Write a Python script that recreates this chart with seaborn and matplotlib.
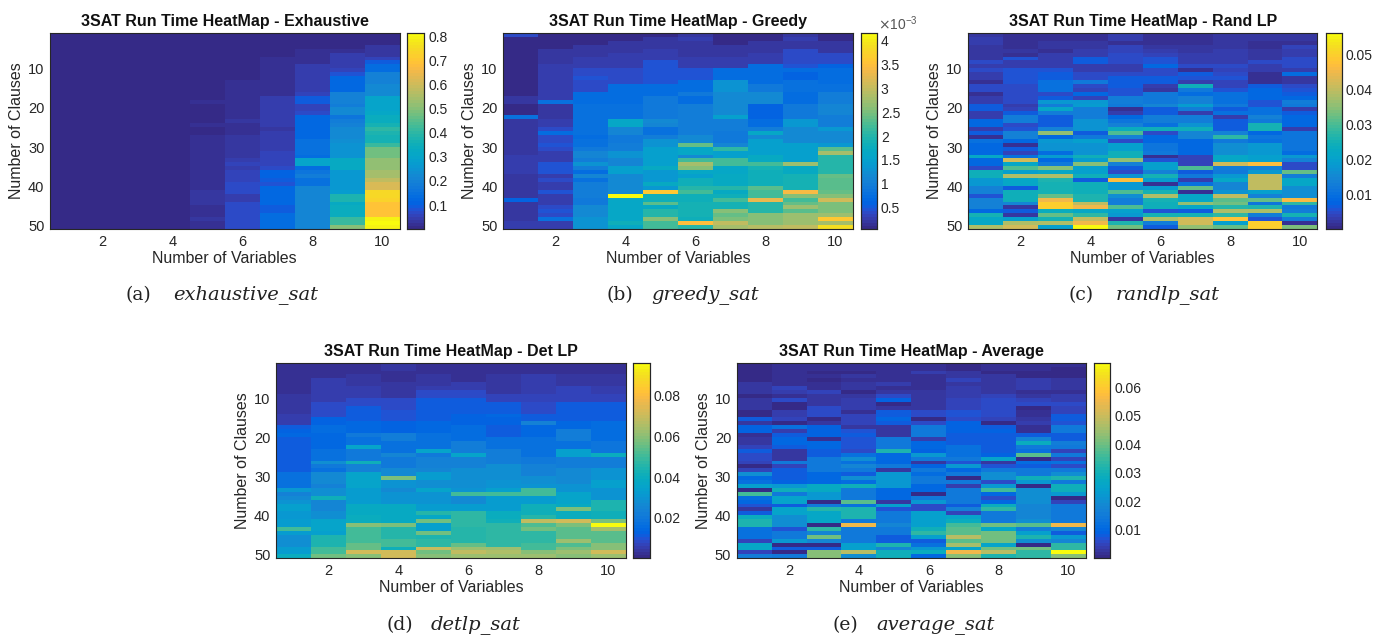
import numpy as np
import pandas as pd
import matplotlib
matplotlib.use('Agg')
import matplotlib.pyplot as plt
from matplotlib.colors import ListedColormap
import seaborn as sns

# run times, one list per number of variables (clauses 1..50)
# exhaustive in units of 0.01 s, greedy in 0.0001 s, the others in 0.001 s
exhaustive_rows = [
    [0,0,0,0,0,0,0,0,0,1],[0,0,0,0,0,0,0,0,0,1],[0,0,0,0,0,0,0,0,0,1],[0,0,0,0,0,0,0,0,0,3],[0,0,0,0,0,0,0,2,2,3],
    [0,0,0,0,0,0,0,2,4,3],[0,0,0,0,0,0,2,2,4,6],[0,0,0,0,0,0,2,2,4,10],[0,0,0,0,0,0,2,5,5,13],[0,0,0,0,0,0,2,5,6,13],
    [0,0,0,0,0,0,2,5,8,20],[0,0,0,0,0,0,2,5,12,20],[0,0,0,0,0,2,2,5,12,20],[0,0,0,0,0,2,2,5,12,22],[0,0,0,0,0,2,2,5,12,22],
    [0,0,0,0,0,2,2,6,20,22],[0,0,0,0,0,2,4,9,20,30],[0,0,0,0,2,2,4,9,20,30],[0,0,0,0,0,2,4,6,18,30],[0,0,0,0,0,2,4,6,22,30],
    [0,0,0,0,0,2,4,7,22,31],[0,0,0,0,0,2,4,12,16,34],[0,0,0,0,0,3,4,12,18,34],[0,0,0,0,2,2,4,12,20,36],[0,0,0,0,1,2,3,12,22,40],
    [0,0,0,0,1,2,5,12,22,38],[0,0,0,0,2,3,5,12,22,36],[0,0,0,0,2,3,5,15,23,36],[0,0,0,0,2,3,4,15,25,41],[0,0,0,0,2,3,4,15,25,48],
    [0,0,0,0,2,3,6,15,25,48],[0,0,0,0,2,3,6,13,25,48],[0,0,0,0,2,5,6,30,32,52],[0,0,0,0,2,6,6,30,32,52],[0,0,0,0,2,4,7,13,32,52],
    [0,0,0,0,2,6,11,16,26,54],[0,0,0,0,2,6,11,18,26,54],[0,0,0,0,2,6,10,15,26,58],[0,0,0,0,2,7,8,15,26,62],[0,0,0,0,2,7,12,21,26,62],
    [0,0,0,0,3,7,12,21,28,74],[0,0,0,1,3,5,12,21,38,74],[0,0,0,0,3,5,12,21,38,73],[0,0,0,0,3,7,12,21,33,69],[0,0,0,0,2,7,10,21,34,69],
    [0,0,0,0,2,7,10,21,34,69],[0,0,0,0,2,7,13,21,34,69],[0,0,0,0,3,7,13,21,42,80],[0,0,0,1,2,7,13,21,42,81],[0,0,0,1,2,7,13,21,50,80],
]

greedy_cols = [
    [4,1,1,1,1,1,1,1,1,1, 1,1,1,1,1,1,2,2,1,1, 1,8,2,2,2,2,2,2,2,2, 2,3,3,3,3,3,2,2,2,2, 2,2,6,2,2,2,2,2,3,3],
    [1,1,1,1,2,2,2,2,3,3, 3,3,3,3,3,3,3,8,2,2, 2,2,3,3,4,7,4,4,5,4, 3,3,3,5,5,5,3,4,3,3, 5,3,3,3,4,5,4,8,3,3],
    [1,1,1,2,2,2,3,3,3,4, 4,5,4,4,4,7,7,7,8,8, 8,8,8,8,8,8,7,8,8,9, 11,11,10,13,10,7,11,8,10,10, 10,10,9,9,12,12,12,13,13,13],
    [1,1,2,2,2,3,3,3,3,4, 4,4,4,7,7,7,7,7,8,8, 8,8,16,16,11,11,9,9,10,10, 13,13,11,11,15,15,12,12,12,12, 12,41,16,16,16,16,16,16,18,16],
    [1,2,2,2,3,3,3,5,5,5, 5,5,5,7,7,7,9,9,9,9, 9,9,12,11,8,8,10,13,13,15, 15,15,15,15,17,14,14,14,17,14, 36,18,18,23,17,20,20,26,22,22],
    [2,3,2,2,2,2,3,3,3,5, 5,5,7,7,7,9,7,7,10,10, 10,10,10,10,10,10,12,12,24,16, 16,12,22,28,26,16,15,18,18,20, 22,18,18,19,19,19,19,18,35,20],
    [1,1,1,2,2,2,3,3,3,7, 7,7,13,13,13,12,12,12,12,12, 12,15,10,10,10,9,9,9,11,21, 15,15,22,22,16,16,17,17,17,20, 17,18,22,19,19,26,24,25,30,28],
    [1,1,2,2,2,3,3,3,7,7, 7,7,7,9,9,12,12,12,6,6, 6,6,7,7,10,16,12,15,15,15, 15,17,17,22,19,18,18,18,18,23, 22,22,33,20,20,20,26,26,26,29],
    [2,3,2,2,4,4,4,4,5,7, 6,6,8,8,8,7,7,7,9,9, 9,9,14,14,12,12,12,12,15,15, 15,15,15,27,17,17,19,19,19,19, 34,26,22,24,27,23,27,27,27,30],
    [1,1,2,2,2,4,4,4,6,7, 7,7,7,8,8,10,10,10,11,11, 11,10,10,10,14,12,12,12,14,23, 28,20,20,20,20,20,24,23,23,23, 24,26,31,25,25,25,27,36,28,39],
]

randlp_cols = [
    [2,3,3,2,2,2,2,5,3,5, 3,3,1,5,5,1,3,3,7,7, 3,3,8,8,3,7,1,10,8,8, 8,22,8,8,5,24,24,18,18,14, 14,6,14,14,14,8,25,22,22,38],
    [1,1,1,1,2,1,6,3,3,6, 6,6,6,5,5,5,5,5,3,4, 7,13,13,5,6,14,14,8,1,7, 4,10,42,22,30,20,38,22,22,7, 24,24,24,15,2,7,2,20,38,42],
    [1,1,2,2,1,3,3,3,3,6, 7,7,10,10,10,5,7,18,13,22, 13,7,7,7,14,36,8,18,17,17, 9,19,8,12,35,22,38,26,25,25, 25,32,45,50,50,23,32,25,38,20],
    [1,1,2,2,3,3,7,7,3,3, 5,5,12,5,4,8,4,18,19,13, 13,13,17,17,17,7,12,20,17,17, 17,24,19,35,20,20,24,7,24,24, 24,26,26,40,45,22,28,40,45,56],
    [3,3,1,4,4,5,5,5,3,3, 5,7,7,7,6,6,13,13,12,1, 3,8,11,14,23,30,14,5,20,20, 24,24,36,14,7,5,17,47,18,18, 30,16,13,13,30,20,18,2,26,33],
    [1,1,1,2,3,4,6,6,8,5, 5,7,7,3,2,12,12,12,15,7, 7,13,13,10,24,5,8,8,11,11, 12,1,6,20,20,14,25,19,1,19, 25,38,25,24,24,6,25,38,13,7],
    [1,1,1,2,2,3,3,3,5,1, 7,6,3,24,12,9,14,14,19,13, 3,13,13,17,24,15,15,8,8,8, 8,4,4,4,30,7,12,3,10,32, 1,22,22,36,22,7,25,42,42,36],
    [2,2,2,2,3,3,3,3,5,4, 5,6,4,4,6,10,10,10,12,7, 10,3,7,7,7,14,28,12,16,16, 16,22,22,42,13,12,18,22,15,15, 17,40,31,33,27,38,28,48,20,32],
    [2,2,1,1,2,2,2,5,3,3, 1,1,1,7,8,8,8,6,6,10, 10,14,12,25,25,8,11,10,18,18, 18,20,20,47,14,18,40,40,40,40, 20,14,32,11,26,38,13,6,50,50],
    [2,2,1,4,3,3,5,5,5,3, 9,2,2,5,6,7,8,13,12,3, 7,8,8,8,3,11,11,11,11,11, 9,18,14,5,5,32,13,22,22,16, 16,16,46,28,12,13,25,13,1,34],
]

detlp_cols = [
    [2,2,2,3,3,3,3,3,4,4, 4,4,4,5,5,5,12,13,14,12, 12,12,11,11,12,12,12,12,18,18, 18,18,31,24,26,30,34,34,31,31, 32,32,50,33,28,28,28,33,33,40],
    [3,3,3,3,5,5,5,5,6,6, 9,9,9,9,13,13,16,16,14,14, 14,14,18,18,18,28,20,17,26,26, 26,24,28,28,42,25,25,25,28,28, 36,36,36,34,45,45,45,50,50,56],
    [3,3,3,4,4,4,5,5,5,8, 9,12,12,12,12,14,14,14,20,18, 18,36,20,20,20,42,24,24,35,35, 35,35,33,33,33,33,38,38,38,40, 40,60,50,50,50,50,55,55,72,60],
    [4,4,3,3,3,4,4,4,4,8, 8,8,10,10,10,13,13,13,22,22, 18,18,18,25,20,20,20,27,27,58, 30,30,26,30,30,30,38,38,38,38, 38,58,46,46,46,50,50,42,72,72],
    [3,3,3,4,4,4,6,8,8,12, 12,12,12,12,12,15,15,15,18,18, 18,18,36,20,24,24,24,25,32,32, 28,28,35,30,30,30,33,33,46,37, 56,34,34,56,44,48,48,70,56,60],
    [2,2,3,3,3,5,5,8,8,11, 11,11,11,13,13,13,16,16,16,16, 22,22,22,36,24,24,24,28,28,28, 28,28,30,50,26,26,32,32,48,48, 48,48,46,46,46,46,55,62,68,62],
    [3,3,3,4,4,4,4,4,7,7, 12,12,12,14,13,13,12,12,12,18, 18,18,22,22,22,22,28,28,28,28, 30,30,34,50,32,32,32,32,40,40, 42,48,48,48,48,48,48,62,66,62],
    [3,3,3,5,5,5,5,5,7,7, 9,9,9,11,11,24,15,14,14,17, 17,17,17,17,20,20,24,24,24,28, 28,30,50,50,32,32,42,42,42,46, 68,52,56,48,48,48,50,50,60,62],
    [2,2,2,4,4,4,7,7,7,7, 12,12,12,12,12,14,14,22,22,22, 17,17,34,34,22,22,22,27,27,27, 27,30,30,36,36,36,38,58,40,40, 72,58,54,54,54,62,52,58,62,60],
    [2,2,2,4,4,4,6,6,7,7, 12,12,12,12,12,16,16,16,16,16, 19,19,19,40,22,22,22,30,30,30, 34,34,30,30,30,44,44,44,42,42, 58,96,64,54,54,54,60,60,72,62],
]

average_cols = [
    [1,1,1,1,1,3,3,3,1,3, 3,3,1,1,8,3,9,9,2,3, 3,5,8,6,6,5,1,5,20,10, 12,24,1,36,11,10,7,3,8,28, 32,32,12,12,12,5,26,26,5,16],
    [2,2,2,2,2,2,5,4,2,6, 1,1,4,4,5,1,12,4,8,10, 10,8,3,3,3,14,5,8,8,8, 9,22,30,14,25,25,8,25,25,20, 20,20,7,15,15,22,1,8,1,14],
    [2,2,1,2,1,2,2,5,3,3, 3,6,6,6,1,3,9,9,9,2, 10,10,8,8,14,14,14,14,10,10, 10,27,27,22,22,1,15,33,26,26, 26,1,34,18,40,18,1,8,42,42],
    [2,2,1,3,2,3,3,1,3,4, 4,4,2,5,5,5,3,7,8,7, 7,7,6,12,20,12,18,14,8,20, 11,30,15,15,14,38,12,32,32,32, 14,55,14,14,14,14,24,24,48,20],
    [2,2,2,2,2,4,2,3,6,9, 1,3,8,8,10,8,3,3,3,14, 15,14,32,10,10,10,14,3,22,22, 22,22,10,10,10,3,24,7,14,14, 14,18,14,14,8,8,32,18,30,30],
    [2,2,4,2,2,2,2,3,3,3, 3,3,6,6,1,6,14,14,14,4, 10,10,9,22,14,3,9,14,11,14, 14,10,10,1,14,22,6,6,24,24, 24,24,30,34,24,8,12,22,28,10],
    [1,1,3,3,5,3,4,4,4,5, 5,5,7,7,6,9,9,9,8,8, 8,12,12,12,14,7,22,10,14,1, 14,4,14,14,14,14,8,17,5,25, 28,36,38,38,48,38,45,25,55,42],
    [2,2,1,3,3,3,3,3,5,6, 6,6,6,6,5,1,8,9,8,8, 8,8,8,9,25,3,7,14,20,20, 6,22,36,10,6,10,28,34,14,14, 14,40,26,40,40,40,25,40,48,32],
    [2,2,1,1,4,4,4,2,3,5, 6,1,2,2,3,4,2,2,8,18, 28,14,12,38,1,11,8,14,14,30, 22,1,20,20,20,20,18,18,18,18, 20,38,16,24,32,20,1,40,34,34],
    [2,1,1,1,3,3,3,2,4,4, 6,5,5,8,8,7,14,14,8,8, 16,14,5,14,5,12,6,14,20,32, 14,30,30,22,1,5,14,14,14,14, 14,55,18,8,22,18,34,34,68,42],
]

variables = list(range(1, 11))
clauses = list(range(1, 51))
x_ticks = [2, 4, 6, 8, 10]
y_ticks = [10, 20, 30, 40, 50]

# MATLAB parula, 64 steps
parula = ListedColormap([
    (0.2081,0.1663,0.5292),(0.2116,0.1898,0.5777),(0.2123,0.2138,0.6270),(0.2081,0.2386,0.6771),
    (0.1959,0.2645,0.7279),(0.1707,0.2919,0.7792),(0.1253,0.3242,0.8303),(0.0591,0.3598,0.8683),
    (0.0117,0.3875,0.8820),(0.0060,0.4086,0.8828),(0.0165,0.4266,0.8786),(0.0329,0.4430,0.8720),
    (0.0498,0.4586,0.8641),(0.0629,0.4737,0.8554),(0.0723,0.4887,0.8467),(0.0779,0.5040,0.8384),
    (0.0793,0.5200,0.8312),(0.0749,0.5375,0.8263),(0.0641,0.5570,0.8240),(0.0488,0.5772,0.8228),
    (0.0343,0.5966,0.8199),(0.0265,0.6137,0.8135),(0.0239,0.6287,0.8038),(0.0231,0.6418,0.7913),
    (0.0228,0.6535,0.7768),(0.0267,0.6642,0.7607),(0.0384,0.6743,0.7436),(0.0590,0.6838,0.7254),
    (0.0843,0.6928,0.7062),(0.1133,0.7015,0.6859),(0.1453,0.7098,0.6646),(0.1807,0.7179,0.6424),
    (0.2178,0.7250,0.6193),(0.2586,0.7317,0.5954),(0.3022,0.7376,0.5712),(0.3482,0.7424,0.5473),
    (0.3953,0.7459,0.5244),(0.4420,0.7481,0.5033),(0.4871,0.7491,0.4840),(0.5300,0.7491,0.4661),
    (0.5709,0.7485,0.4494),(0.6099,0.7473,0.4337),(0.6473,0.7456,0.4188),(0.6834,0.7435,0.4044),
    (0.7184,0.7411,0.3905),(0.7525,0.7384,0.3768),(0.7858,0.7356,0.3633),(0.8185,0.7327,0.3498),
    (0.8507,0.7299,0.3360),(0.8824,0.7274,0.3217),(0.9139,0.7258,0.3063),(0.9450,0.7261,0.2886),
    (0.9739,0.7314,0.2666),(0.9938,0.7455,0.2403),(0.9990,0.7653,0.2164),(0.9955,0.7861,0.1967),
    (0.9880,0.8066,0.1794),(0.9789,0.8271,0.1633),(0.9697,0.8481,0.1475),(0.9626,0.8705,0.1309),
    (0.9589,0.8949,0.1132),(0.9598,0.9218,0.0948),(0.9661,0.9514,0.0755),(0.9763,0.9831,0.0538),
])

sns.set_theme(style='white')
plt.rcParams['font.family'] = ['Liberation Sans', 'DejaVu Sans']

W, H = 1375, 637
DARK = '#262626'
fig = plt.figure(figsize=(W / 100, H / 100), dpi=100)


def box(x0, y0, x1, y1):
    # pixel box, y measured from the top of the picture
    return [x0 / W, 1 - y1 / H, (x1 - x0) / W, (y1 - y0) / H]


def panel(values, title, pos, cpos, vmin, vmax, cticks, clabels, letter, name, letter_x, name_x, cap_y):
    df = pd.DataFrame(values, index=clauses, columns=variables)
    ax = fig.add_axes(box(*pos))
    cax = fig.add_axes(box(*cpos))
    sns.heatmap(df, ax=ax, cbar_ax=cax, cmap=parula, vmin=vmin, vmax=vmax, rasterized=True)
    ax.set_xticks([v - 0.5 for v in x_ticks])
    ax.set_xticklabels(x_ticks, rotation=0)
    ax.set_yticks([c - 0.5 for c in y_ticks])
    ax.set_yticklabels(y_ticks, rotation=0)
    ax.tick_params(direction='in', length=3, width=0.7, color=DARK, labelcolor=DARK, labelsize=10.5,
                   bottom=True, top=True, left=True, right=True, pad=4)
    for s in ax.spines.values():
        s.set_visible(True)
        s.set_linewidth(0.8)
        s.set_color(DARK)
    ax.set_xlabel('Number of Variables', fontsize=11.5, color=DARK)
    ax.set_ylabel('Number of Clauses', fontsize=11.5, color=DARK)
    ax.xaxis.set_label_coords(0.5, -0.11)
    ax.yaxis.set_label_coords(-0.074, 0.5)
    ax.set_title(title, fontsize=11.5, fontweight='bold', color='#111111', pad=5)

    cax.set_yticks(cticks)
    cax.set_yticklabels(clabels)
    cax.tick_params(axis='y', direction='in', length=3, width=0.7, color=DARK, labelcolor=DARK,
                    labelsize=10, right=True, left=False, pad=3)
    for s in cax.spines.values():
        s.set_visible(True)
        s.set_linewidth(0.8)
        s.set_color(DARK)

    fig.text(letter_x / W, 1 - cap_y / H, '(%s)' % letter, fontsize=13.5, family='DejaVu Serif',
             color='#222222', ha='left', va='center')
    fig.text(name_x / W, 1 - cap_y / H, name, fontsize=14, family='DejaVu Serif', style='italic',
             color='#222222', ha='center', va='center')
    return ax


exhaustive = np.array(exhaustive_rows) * 0.01
greedy = np.array(greedy_cols).T * 0.0001
randlp = np.array(randlp_cols).T * 0.001
detlp = np.array(detlp_cols).T * 0.001
average = np.array(average_cols).T * 0.001

panel(exhaustive, '3SAT Run Time HeatMap - Exhaustive', (50, 33, 399.5, 229), (407, 33, 424, 229),
      0.0005, 0.815, [0.1, 0.2, 0.3, 0.4, 0.5, 0.6, 0.7, 0.8], ['0.1', '0.2', '0.3', '0.4', '0.5', '0.6', '0.7', '0.8'],
      'a', 'exhaustive_sat', 125.5, 246, 295)
panel(greedy, '3SAT Run Time HeatMap - Greedy', (503.3, 33, 853, 229), (860.7, 33, 876.7, 229),
      0.000053, 0.00416, [0.0005, 0.001, 0.0015, 0.002, 0.0025, 0.003, 0.0035, 0.004],
      ['0.5', '1', '1.5', '2', '2.5', '3', '3.5', '4'], 'b', 'greedy_sat', 607, 705.5, 295)
panel(randlp, '3SAT Run Time HeatMap - Rand LP', (968.3, 33, 1317.3, 229), (1325.7, 33, 1341.7, 229),
      0.0001, 0.0562, [0.01, 0.02, 0.03, 0.04, 0.05], ['0.01', '0.02', '0.03', '0.04', '0.05'],
      'c', 'randlp_sat', 1069, 1168, 295)
panel(detlp, '3SAT Run Time HeatMap - Det LP', (276, 362.7, 625.7, 558.3), (632.7, 362.7, 649.7, 558.3),
      0.0001, 0.0962, [0.02, 0.04, 0.06, 0.08], ['0.02', '0.04', '0.06', '0.08'],
      'd', 'detlp_sat', 386, 476, 625)
panel(average, '3SAT Run Time HeatMap - Average', (736.7, 362.7, 1086, 558.3), (1093.7, 362.7, 1110.3, 558.3),
      0.0001, 0.0685, [0.01, 0.02, 0.03, 0.04, 0.05, 0.06], ['0.01', '0.02', '0.03', '0.04', '0.05', '0.06'],
      'e', 'average_sat', 832, 935.5, 625)

# scale factor above the greedy colorbar
fig.text(878 / W, 1 - 24 / H, r'$\times\mathdefault{10^{-3}}$', fontsize=10, color='#555555', ha='left', va='center')

fig.savefig('out.png', dpi=100)
